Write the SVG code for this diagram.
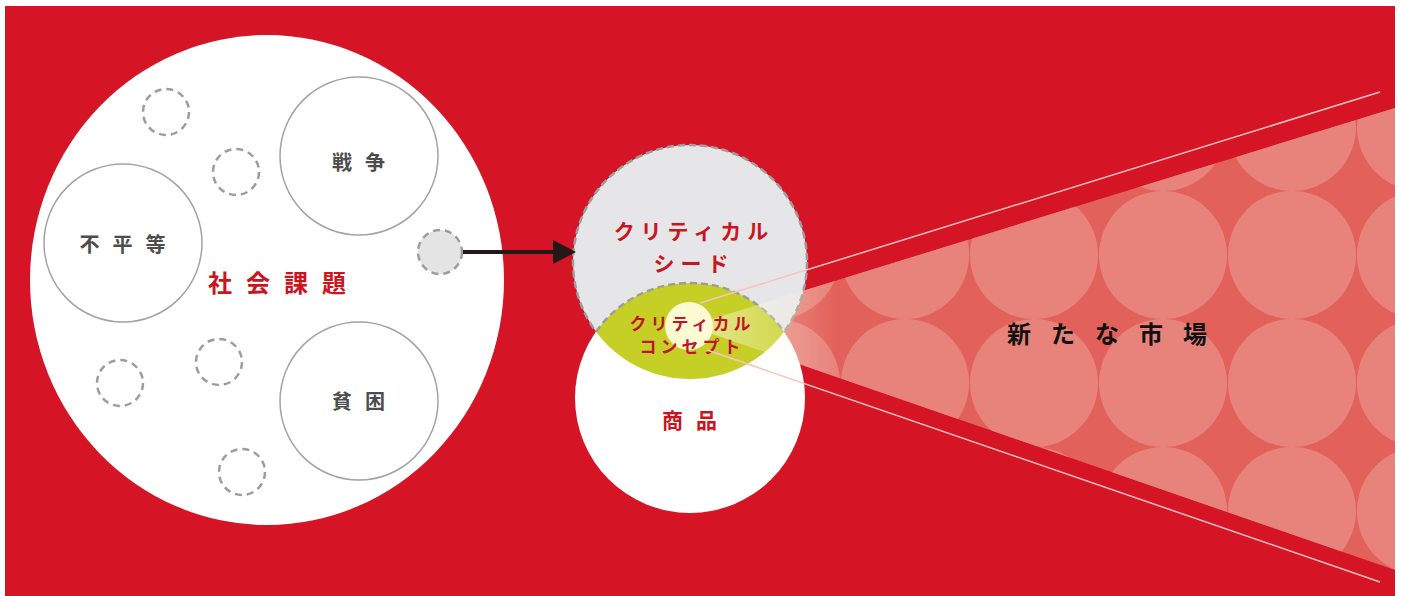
<svg xmlns="http://www.w3.org/2000/svg" width="1401" height="596" viewBox="0 0 1401 596">
<style>
text{font-family:"Noto Sans CJK JP","Noto Sans",sans-serif;font-weight:bold;text-anchor:middle}
.gray{fill:#4d4d4d;font-size:20px;letter-spacing:13px}
.red{fill:#cc1420}
.issue{fill:#fff;stroke:#a3a3a3;stroke-width:1.5}
.dash{fill:none;stroke:#9d9d9d;stroke-width:2.5;stroke-dasharray:7 5}
.pc{fill:#e8837c}
.ray{stroke:#f6c4bd;stroke-width:1.5;fill:none}
.concept{fill:#c0142b;font-size:17px;letter-spacing:4px}
</style>
<defs>
<clipPath id="coneClip"><polygon points="689,326 1395,108 1395,570"/></clipPath>
<linearGradient id="glow" x1="689" y1="0" x2="835" y2="0" gradientUnits="userSpaceOnUse">
<stop offset="0" stop-color="#fffbe0" stop-opacity="0.6"/>
<stop offset="1" stop-color="#fffbe0" stop-opacity="0"/>
</linearGradient>
</defs>
<rect x="0" y="0" width="1401" height="596" fill="#fff"/>
<rect x="5" y="6" width="1390" height="590" fill="#d51525"/>

<g id="market">
<g clip-path="url(#coneClip)">
<rect x="680" y="90" width="720" height="500" fill="#e2625b"/>
<circle class="pc" cx="776" cy="255" r="64"/><circle class="pc" cx="776" cy="383" r="64"/>
<circle class="pc" cx="905" cy="255" r="64"/><circle class="pc" cx="905" cy="383" r="64"/>
<circle class="pc" cx="1034" cy="127" r="64"/><circle class="pc" cx="1034" cy="255" r="64"/><circle class="pc" cx="1034" cy="383" r="64"/><circle class="pc" cx="1034" cy="511" r="64"/>
<circle class="pc" cx="1163" cy="127" r="64"/><circle class="pc" cx="1163" cy="255" r="64"/><circle class="pc" cx="1163" cy="383" r="64"/><circle class="pc" cx="1163" cy="511" r="64"/>
<circle class="pc" cx="1292" cy="127" r="64"/><circle class="pc" cx="1292" cy="255" r="64"/><circle class="pc" cx="1292" cy="383" r="64"/><circle class="pc" cx="1292" cy="511" r="64"/>
<circle class="pc" cx="1421" cy="127" r="64"/><circle class="pc" cx="1421" cy="255" r="64"/><circle class="pc" cx="1421" cy="383" r="64"/><circle class="pc" cx="1421" cy="511" r="64"/>
</g>
<text x="1117" y="343" style="fill:#111;font-size:24px;letter-spacing:20px">新たな市場</text>
</g>

<g id="social-issues">
<ellipse cx="267" cy="280" rx="237" ry="245" fill="#fff"/>
<text class="red" x="284" y="292" style="font-size:24px;letter-spacing:14px">社会課題</text>
</g>
<g id="inequality"><circle class="issue" cx="123" cy="243" r="79"/><text class="gray" x="129" y="252">不平等</text></g>
<g id="war"><circle class="issue" cx="359" cy="156" r="79"/><text class="gray" x="365" y="170">戦争</text></g>
<g id="poverty"><circle class="issue" cx="359" cy="401" r="79"/><text class="gray" x="365" y="409">貧困</text></g>
<g id="small-issues">
<circle class="dash" cx="166" cy="112" r="23"/>
<circle class="dash" cx="236" cy="172" r="23"/>
<circle class="dash" cx="219" cy="362" r="23"/>
<circle class="dash" cx="120" cy="383" r="23"/>
<circle class="dash" cx="242" cy="472" r="23"/>
</g>
<g id="seed-issue"><circle class="dash" cx="440" cy="252" r="22" style="fill:#e4e4e4"/></g>

<g id="critical-seed">
<circle cx="690" cy="262" r="117" fill="#e6e6e8" stroke="#9d9d9d" stroke-width="2.5" stroke-dasharray="7 4"/>
<text class="red" x="694" y="239" style="font-size:21px;letter-spacing:6px">クリティカル</text>
<text class="red" x="694" y="271" style="font-size:21px;letter-spacing:6px">シード</text>
</g>
<g id="product">
<circle cx="690" cy="398" r="115" fill="#fff"/>
<text class="red" x="696" y="428" style="font-size:21px;letter-spacing:13px">商品</text>
</g>
<g id="critical-concept">
<path d="M596,331.7 A115,115 0 0,1 784,331.7 A117,117 0 0,1 596,331.7 Z" fill="#c6cf26"/>
<path d="M596,331.7 A115,115 0 0,1 784,331.7" fill="none" stroke="#9d9d9d" stroke-width="2.5" stroke-dasharray="7 4"/>
<circle cx="689" cy="326" r="24" fill="#fdfbd2"/>
<polygon points="689,326 835,281 835,376" fill="url(#glow)"/>
<text class="concept" x="692" y="330">クリティカル</text>
<text class="concept" x="692" y="353">コンセプト</text>
</g>

<g id="connectors">
<line x1="463" y1="252" x2="556" y2="252" stroke="#231815" stroke-width="4"/>
<polygon points="553,240 576,252 553,264" fill="#231815"/>
<line class="ray" x1="700" y1="303" x2="1380" y2="92"/>
<line class="ray" x1="707" y1="350" x2="1380" y2="582"/>
</g>
</svg>
